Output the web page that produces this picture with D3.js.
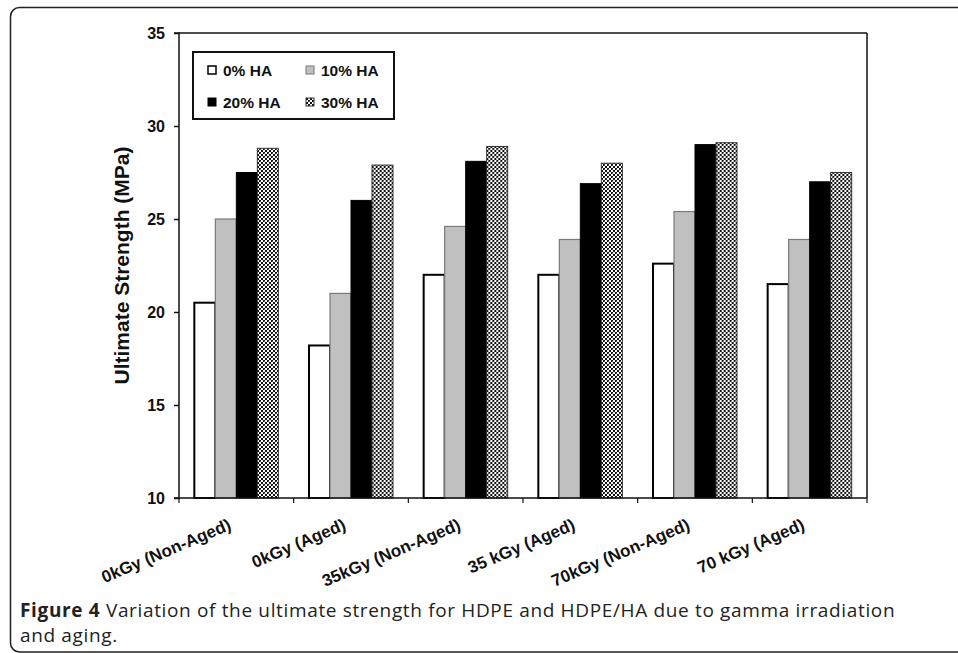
<!DOCTYPE html>
<html><head><meta charset="utf-8">
<script src="https://cdn.jsdelivr.net/npm/d3@7"></script>
<style>
html,body{margin:0;padding:0;background:#fff;}
svg{display:block;}
</style></head>
<body>
<svg id="chart" width="958" height="653"></svg>
<script>
const categories = ["0kGy (Non-Aged)", "0kGy (Aged)", "35kGy (Non-Aged)", "35 kGy (Aged)", "70kGy (Non-Aged)", "70 kGy (Aged)"];
const seriesNames = ["0% HA", "10% HA", "20% HA", "30% HA"];
const ha0  = [20.5, 18.2, 22.0, 22.0, 22.6, 21.5];
const ha10 = [25.0, 21.0, 24.6, 23.9, 25.4, 23.9];
const ha20 = [27.5, 26.0, 28.1, 26.9, 29.0, 27.0];
const ha30 = [28.8, 27.9, 28.9, 28.0, 29.1, 27.5];
const yTicks = [10, 15, 20, 25, 30, 35];
const yTitle = "Ultimate Strength (MPa)";
const captionBold = "Figure 4";
const captionLine1 = " Variation of the ultimate strength for HDPE and HDPE/HA due to gamma irradiation";
const captionLine2 = "and aging.";

const seriesValues = [ha0, ha10, ha20, ha30];

const svg = d3.select("#chart");
const defs = svg.append("defs");
const pat = defs.append("pattern").attr("id","dots").attr("patternUnits","userSpaceOnUse")
  .attr("width",4).attr("height",4);
pat.append("rect").attr("width",4).attr("height",4).attr("fill","#fff");
pat.append("rect").attr("x",0).attr("y",0).attr("width",2).attr("height",2).attr("fill","#111");
pat.append("rect").attr("x",2).attr("y",2).attr("width",2).attr("height",2).attr("fill","#111");
pat.append("rect").attr("x",1).attr("y",1).attr("width",1).attr("height",1).attr("fill","#555");

const fills = ["#ffffff", "#c0c0c0", "#000000", "url(#dots)"];
const strokes = ["#000000", "#7a7a7a", "#000000", "#333333"];
const strokeW = [2, 1.2, 1, 1];

// outer figure frame
svg.append("rect").attr("x",10.5).attr("y",7.5).attr("width",1000).attr("height",644.5)
  .attr("rx",9).attr("fill","none").attr("stroke","#222").attr("stroke-width",1.5);

const pLeft = 179, pRight = 867, pTop = 33, pBottom = 498;
const x = d3.scaleBand().domain(categories).range([pLeft, pRight]).paddingInner(0).paddingOuter(0);
const xs = d3.scaleBand().domain(d3.range(seriesNames.length)).range([0, x.bandwidth()]).paddingInner(0).paddingOuter(0.73);
const y = d3.scaleLinear().domain([10, 35]).range([pBottom, pTop]);

// bars
const groups = svg.append("g").selectAll("g").data(categories).join("g")
  .attr("transform", d => `translate(${x(d)},0)`);
groups.selectAll("rect").data((c, ci) => seriesValues.map((s, si) => ({si, v: s[ci]})))
  .join("rect")
  .attr("x", d => xs(d.si))
  .attr("y", d => y(d.v))
  .attr("width", xs.bandwidth())
  .attr("height", d => y(10) - y(d.v))
  .attr("fill", d => fills[d.si])
  .attr("stroke", d => strokes[d.si])
  .attr("stroke-width", d => strokeW[d.si]);

// frame top and right
svg.append("line").attr("x1",pLeft).attr("x2",pRight).attr("y1",pTop).attr("y2",pTop).attr("stroke","#111").attr("stroke-width",1.5);
svg.append("line").attr("x1",pRight).attr("x2",pRight).attr("y1",pTop).attr("y2",pBottom).attr("stroke","#111").attr("stroke-width",1.5);

// y axis
const yAxis = d3.axisLeft(y).tickValues(yTicks).tickSize(5).tickPadding(9).tickFormat(d3.format("d"));
const gy = svg.append("g").attr("transform",`translate(${pLeft},0)`).call(yAxis);
gy.select(".domain").attr("stroke","#111").attr("stroke-width",1.5).attr("d", `M-5,${pTop}H0V${pBottom}H-5`);
gy.selectAll(".tick line").attr("stroke","#111").attr("stroke-width",1.5);
gy.selectAll(".tick text").attr("font-family","'Liberation Sans', Arial, sans-serif")
  .attr("font-weight","bold").attr("font-size",16).attr("fill","#111");

// x axis
svg.append("line").attr("x1",pLeft).attr("x2",pRight).attr("y1",pBottom).attr("y2",pBottom).attr("stroke","#111").attr("stroke-width",1.5);
const boundaries = categories.map(c => x(c)).concat([pRight]);
svg.append("g").selectAll("line").data(boundaries).join("line")
  .attr("x1", d => d).attr("x2", d => d).attr("y1", pBottom).attr("y2", pBottom + 5)
  .attr("stroke","#111").attr("stroke-width",1.2);
svg.append("g").selectAll("text").data(categories).join("text")
  .attr("transform", d => `translate(${x(d) + x.bandwidth()/2 - 4},${pBottom + 31}) rotate(-23)`)
  .attr("text-anchor","end")
  .attr("font-family","'Liberation Sans', Arial, sans-serif")
  .attr("font-weight","bold").attr("font-size",17).attr("fill","#111")
  .text(d => d);

// y title
svg.append("text").attr("transform",`translate(129,${(pTop+pBottom)/2}) rotate(-90)`)
  .attr("text-anchor","middle")
  .attr("font-family","'Liberation Sans', Arial, sans-serif")
  .attr("font-weight","bold").attr("font-size",21).attr("fill","#111")
  .text(yTitle);

// legend
const lg = svg.append("g");
lg.append("rect").attr("x",193).attr("y",52).attr("width",201).attr("height",67)
  .attr("fill","#fff").attr("stroke","#111").attr("stroke-width",2);
const legPos = [[212,70],[310,70],[212,102],[310,102]];
seriesNames.forEach((n,i) => {
  const [cx, cy] = legPos[i];
  lg.append("rect").attr("x",cx-4).attr("y",cy-4).attr("width",8).attr("height",8)
    .attr("fill",fills[i]).attr("stroke",strokes[i]).attr("stroke-width",i===0?1.5:1);
  lg.append("text").attr("x",cx+11).attr("y",cy+5.5)
    .attr("font-family","'Liberation Sans', Arial, sans-serif")
    .attr("font-weight","bold").attr("font-size",15.5).attr("fill","#111").text(n);
});

// caption
const cap = svg.append("text").attr("x",20).attr("y",617)
  .attr("font-family","'Open Sans', 'Noto Sans', sans-serif").attr("font-size",19)
  .attr("letter-spacing","0.65px").attr("fill","#222");
cap.append("tspan").attr("font-weight","bold").text(captionBold);
cap.append("tspan").text(captionLine1);
svg.append("text").attr("x",20).attr("y",642)
  .attr("font-family","'Open Sans', 'Noto Sans', sans-serif").attr("font-size",19)
  .attr("letter-spacing","0.65px").attr("fill","#222")
  .text(captionLine2);
</script>
</body></html>
